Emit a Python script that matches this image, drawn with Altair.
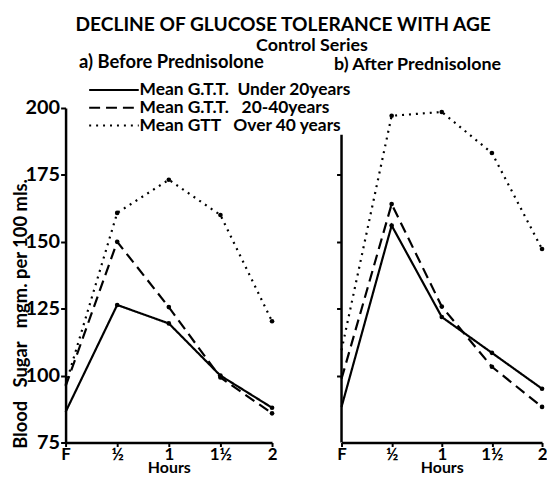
import altair as alt
import pandas as pd

hours = [0, 0.5, 1, 1.5, 2]
hour_labels = ["F", "½", "1", "1½", "2"]
series = ["Mean G.T.T.\u00a0 Under 20years",
          "Mean G.T.T.\u00a0\u00a0 20-40years",
          "Mean GTT\u00a0\u00a0 Over 40 years"]
panels = ["a) Before Prednisolone", "b) After Prednisolone"]

before_under20 = [86.4, 126.4, 119.5, 100.0, 88.0]
before_20_40 = [96.0, 150.0, 125.6, 99.3, 85.9]
before_over40 = [96.5, 160.8, 173.2, 160.0, 120.3]

after_under20 = [88.3, 156.1, 121.9, 108.5, 95.1]
after_20_40 = [98.8, 164.1, 125.8, 103.3, 88.3]
after_over40 = [109.5, 197.1, 198.5, 183.2, 147.3]

y_ticks = [75, 100, 125, 150, 175, 200]
right_ticks = [100, 125, 150, 175]
right_axis_extent = [75, 190]   # the right panel's drawn y-axis stops short of 200

rows = []
for panel, vals in [(panels[0], [before_under20, before_20_40, before_over40]),
                    (panels[1], [after_under20, after_20_40, after_over40])]:
    for s, v in zip(series, vals):
        for h, val in zip(hours, v):
            rows.append({"panel": panel, "series": s, "hour": h, "value": val})
df = pd.DataFrame(rows)
axis_df = pd.DataFrame({"hour": [hours[0]], "lo": [right_axis_extent[0]],
                        "hi": [right_axis_extent[1]]})

label_expr = " : ".join(
    f"datum.value == {h} ? '{l}'" for h, l in zip(hours, hour_labels)
) + " : ''"

FONT = "Lato"


def panel_chart(panel, left):
    data = df[df["panel"] == panel]
    xscale = alt.Scale(domain=[0, 2], nice=False)
    yscale = alt.Scale(domain=[75, 200], nice=False, zero=False)
    x_bottom = alt.X("hour:Q", scale=xscale,
                     axis=alt.Axis(values=hours, labelExpr=label_expr, title="Hours",
                                   grid=False, tickSize=4, labelPadding=0,
                                   labelFontSize=17, titleFontSize=16, titlePadding=-3,
                                   labelFlush=False))
    x_top = alt.X("hour:Q", scale=xscale,
                  axis=alt.Axis(orient="top", domain=False, ticks=False, labels=False,
                                grid=False, title=panel,
                                titleFontSize=18.5 if left else 18,
                                titleAlign="left", titleAnchor="start",
                                titleBaseline="alphabetic",
                                titleX=13 if left else -8,
                                titleY=-41 if left else -39))
    if left:
        yaxis = alt.Axis(values=y_ticks, grid=False,
                         title="Blood\u00a0\u00a0 Sugar\u00a0\u00a0 mgm. per 100 mls.",
                         titleFontSize=18.5, titleX=-39.5, titleY=207,
                         titleBaseline="alphabetic", titleAngle=-90,
                         labelFontSize=20, labelPadding=1, tickSize=5)
    else:
        yaxis = alt.Axis(values=right_ticks, grid=False, labels=False,
                         title=None, tickSize=5, domain=False)
    y = alt.Y("value:Q", scale=yscale, axis=yaxis)
    dash = alt.StrokeDash(
        "series:N",
        scale=alt.Scale(domain=series, range=[[1, 0], [11, 6], [2, 5]]),
        legend=alt.Legend(title=None, orient="none", legendX=40, legendY=-27,
                          symbolType="M-4,0H4", symbolSize=156,
                          symbolStrokeWidth=2, symbolStrokeColor="black",
                          symbolFillColor="transparent",
                          labelFontSize=17.5, labelFont=FONT, labelFontWeight="bold",
                          labelColor="black",
                          labelLimit=0, rowPadding=-8, labelOffset=17) if left else None,
    )
    lines = alt.Chart(data).mark_line(color="black", strokeWidth=2.2).encode(
        x=x_bottom, y=y, strokeDash=dash, detail="series:N")
    pts = alt.Chart(data).transform_filter("datum.hour > 0").mark_circle(
        color="black", size=22, opacity=1).encode(x=x_top, y=y, detail="series:N")
    layers = [lines, pts]
    if not left:
        axis_rule = alt.Chart(axis_df).mark_rule(color="black", strokeWidth=2.5).encode(
            x=alt.X("hour:Q", scale=xscale, axis=None),
            y=alt.Y("lo:Q", scale=yscale, axis=yaxis),
            y2="hi:Q")
        layers.append(axis_rule)
    return alt.layer(*layers).resolve_axis(x="independent").properties(
        width=208 if left else 202, height=337)


left = panel_chart(panels[0], True)
right = panel_chart(panels[1], False)

inner = alt.hconcat(left, right, spacing=57).properties(
    title=alt.TitleParams("Control Series", anchor="middle", fontSize=18,
                          font=FONT, fontWeight="bold", dx=33, offset=-3))

chart = alt.vconcat(inner).properties(
    title=alt.TitleParams("DECLINE OF GLUCOSE TOLERANCE WITH AGE",
                          anchor="middle", fontSize=19.3, font=FONT,
                          fontWeight="bold", offset=2, dx=4),
    padding={"left": 3, "top": 6, "right": 0, "bottom": 0},
).configure(font=FONT).configure_view(stroke=None).configure_axis(
    domainColor="black", domainWidth=2.5, tickColor="black", tickWidth=2,
    labelColor="black", titleColor="black", labelFont=FONT, titleFont=FONT,
    labelFontWeight="bold", titleFontWeight="bold").configure_title(color="black")

chart.save("out.html", embed_options={"renderer": "svg", "actions": False})
